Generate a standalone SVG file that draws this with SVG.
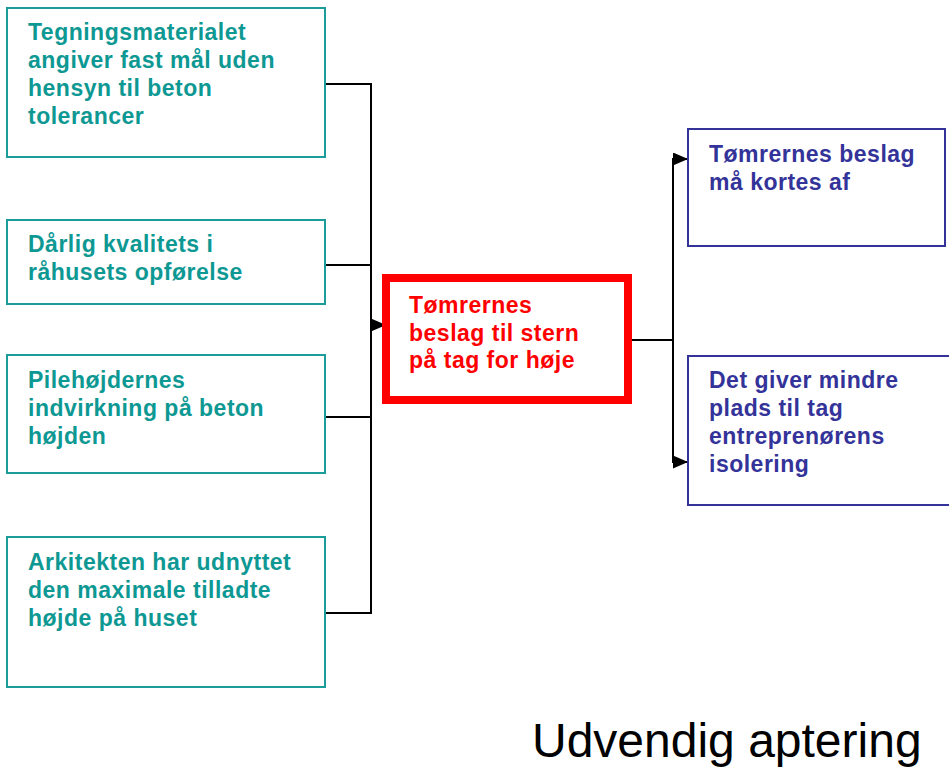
<svg xmlns="http://www.w3.org/2000/svg" width="949" height="769" viewBox="0 0 949 769">
<style>
.box{fill:#fff;stroke:#1a9c9a;stroke-width:2}
.bbox{fill:#fff;stroke:#333399;stroke-width:2}
.t{font-family:"Liberation Sans",Arial,sans-serif;font-weight:bold;font-size:23px;letter-spacing:0.5px}
.teal{fill:#0e9893}
.blue{fill:#333399}
.red{fill:#ff0000}
.con{fill:none;stroke:#000;stroke-width:2}
</style>
<defs>
<marker id="ah" markerWidth="15" markerHeight="13" refX="15" refY="6.5" orient="auto" markerUnits="userSpaceOnUse">
<path d="M0,0 L15,6.5 L0,13 Z" fill="#000"/>
</marker>
</defs>
<rect width="949" height="769" fill="#fff"/>
<g id="connectors">
<path class="con" d="M325,84 H371 M325,265 H371 M325,417 H371 M325,613 H371 M371,83 V614"/>
<path class="con" d="M371,325 H386" marker-end="url(#ah)"/>
<path class="con" d="M632,340 H673 M673,158 V463"/>
<path class="con" d="M673,159 H688" marker-end="url(#ah)"/>
<path class="con" d="M673,462 H688" marker-end="url(#ah)"/>
</g>
<g id="n1">
<rect class="box" x="7" y="8" width="318" height="149"/>
<text class="t teal"><tspan x="28" y="40">Tegningsmaterialet</tspan><tspan x="28" y="68">angiver fast mål uden</tspan><tspan x="28" y="96">hensyn til beton</tspan><tspan x="28" y="124">tolerancer</tspan></text>
</g>
<g id="n2">
<rect class="box" x="7" y="220" width="318" height="84"/>
<text class="t teal"><tspan x="28" y="252">Dårlig kvalitets i</tspan><tspan x="28" y="280">råhusets opførelse</tspan></text>
</g>
<g id="n3">
<rect class="box" x="7" y="355" width="318" height="118"/>
<text class="t teal"><tspan x="28" y="388">Pilehøjdernes</tspan><tspan x="28" y="416">indvirkning på beton</tspan><tspan x="28" y="444">højden</tspan></text>
</g>
<g id="n4">
<rect class="box" x="7" y="537" width="318" height="150"/>
<text class="t teal"><tspan x="28" y="570">Arkitekten har udnyttet</tspan><tspan x="28" y="598">den maximale tilladte</tspan><tspan x="28" y="626">højde på huset</tspan></text>
</g>
<g id="center">
<rect x="386" y="278" width="242" height="122" fill="#fff" stroke="#ff0000" stroke-width="8"/>
<text class="t red"><tspan x="409" y="313">Tømrernes</tspan><tspan x="409" y="341">beslag til stern</tspan><tspan x="409" y="368">på tag for høje</tspan></text>
</g>
<g id="r1">
<rect class="bbox" x="688" y="129" width="257" height="117"/>
<text class="t blue"><tspan x="709" y="162">Tømrernes beslag</tspan><tspan x="709" y="190">må kortes af</tspan></text>
</g>
<g id="r2">
<rect class="bbox" x="688" y="356" width="262" height="149"/>
<text class="t blue"><tspan x="709" y="388">Det giver mindre</tspan><tspan x="709" y="416">plads til tag</tspan><tspan x="709" y="444">entreprenørens</tspan><tspan x="709" y="472">isolering</tspan></text>
</g>
<text x="532" y="757" font-family="'Liberation Sans',Arial,sans-serif" font-size="48" fill="#000">Udvendig aptering</text>
</svg>
